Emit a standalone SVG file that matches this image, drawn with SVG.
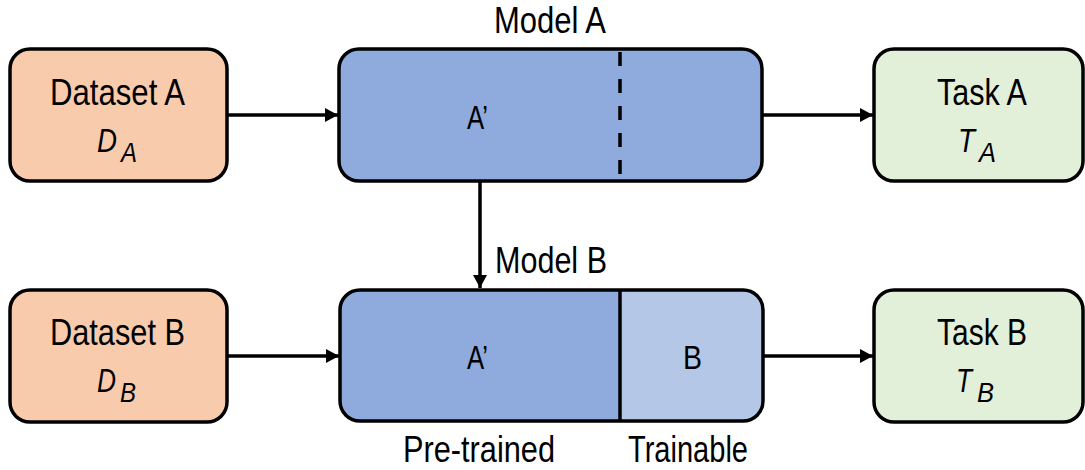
<svg xmlns="http://www.w3.org/2000/svg" width="1085" height="470" viewBox="0 0 1085 470">
  <defs>
    <marker id="arrow" viewBox="0 0 13 14" refX="13" refY="7" markerWidth="13" markerHeight="14" markerUnits="userSpaceOnUse" orient="auto">
      <path d="M0,0 L13,7 L0,14 Z" fill="#000"/>
    </marker>
    <style>
      .box { stroke: #000; stroke-width: 3.5; }
      .data { fill: #F8CBAD; }
      .model { fill: #8FAADC; }
      .train { fill: #B4C7E7; }
      .task { fill: #E2EFD9; }
      .edge { stroke: #000; stroke-width: 3.5; fill: none; marker-end: url(#arrow); }
      text { font-family: "Liberation Sans", Arial, sans-serif; fill: #000; }
      .lbl { font-size: 36px; }
      .math { font-size: 33px; font-style: italic; }
      .sub { font-size: 28px; font-style: italic; }
      .inner { font-size: 33px; }
    </style>
  </defs>

  <!-- connectors -->
  <g id="connectors">
    <line class="edge" x1="227" y1="115" x2="338" y2="115"/>
    <line class="edge" x1="762" y1="115" x2="873" y2="115"/>
    <line class="edge" x1="480" y1="182" x2="480" y2="288"/>
    <line class="edge" x1="227" y1="356" x2="339" y2="356"/>
    <line class="edge" x1="763" y1="356" x2="873" y2="356"/>
  </g>

  <!-- Dataset A -->
  <g id="dataset-a">
    <rect class="box data" x="10" y="49" width="217" height="132" rx="20"/>
    <text class="lbl" x="50" y="105" textLength="135" lengthAdjust="spacingAndGlyphs">Dataset A</text>
    <text class="math" x="97" y="152" textLength="20" lengthAdjust="spacingAndGlyphs">D</text>
    <text class="sub" x="121" y="162" textLength="16" lengthAdjust="spacingAndGlyphs">A</text>
  </g>

  <!-- Model A -->
  <g id="model-a">
    <text class="lbl" x="494" y="33" textLength="112" lengthAdjust="spacingAndGlyphs">Model A</text>
    <rect class="box model" x="339" y="49" width="423" height="132" rx="20"/>
    <line x1="620" y1="52" x2="620" y2="176" stroke="#000" stroke-width="3.5" stroke-dasharray="14 13"/>
    <text class="inner" x="467" y="129" textLength="21" lengthAdjust="spacingAndGlyphs">A’</text>
  </g>

  <!-- Task A -->
  <g id="task-a">
    <rect class="box task" x="874" y="49" width="209" height="132" rx="20"/>
    <text class="lbl" x="937" y="105" textLength="90" lengthAdjust="spacingAndGlyphs">Task A</text>
    <text class="math" x="958" y="152" textLength="17" lengthAdjust="spacingAndGlyphs">T</text>
    <text class="sub" x="979" y="162" textLength="17" lengthAdjust="spacingAndGlyphs">A</text>
  </g>

  <!-- Dataset B -->
  <g id="dataset-b">
    <rect class="box data" x="10" y="290" width="217" height="132" rx="20"/>
    <text class="lbl" x="50" y="345" textLength="135" lengthAdjust="spacingAndGlyphs">Dataset B</text>
    <text class="math" x="97" y="392" textLength="19" lengthAdjust="spacingAndGlyphs">D</text>
    <text class="sub" x="120" y="402" textLength="16" lengthAdjust="spacingAndGlyphs">B</text>
  </g>

  <!-- Model B: pre-trained A' part and trainable B part -->
  <g id="model-b">
    <text class="lbl" x="495" y="273" textLength="112" lengthAdjust="spacingAndGlyphs">Model B</text>
    <path class="model" d="M620,290 L360,290 A20,20 0 0 0 340,310 L340,401 A20,20 0 0 0 360,421 L620,421 Z"/>
    <path class="train" d="M620,290 L743,290 A20,20 0 0 1 763,310 L763,401 A20,20 0 0 1 743,421 L620,421 Z"/>
    <rect x="340" y="290" width="423" height="131" rx="20" fill="none" stroke="#000" stroke-width="3.5"/>
    <line x1="620" y1="290" x2="620" y2="421" stroke="#000" stroke-width="3.5"/>
    <text class="inner" x="467" y="369" textLength="21" lengthAdjust="spacingAndGlyphs">A’</text>
    <text class="inner" x="683" y="369" textLength="19" lengthAdjust="spacingAndGlyphs">B</text>
    <text class="lbl" x="403" y="462" textLength="152" lengthAdjust="spacingAndGlyphs">Pre-trained</text>
    <text class="lbl" x="628" y="462" textLength="120" lengthAdjust="spacingAndGlyphs">Trainable</text>
  </g>

  <!-- Task B -->
  <g id="task-b">
    <rect class="box task" x="874" y="290" width="209" height="132" rx="20"/>
    <text class="lbl" x="937" y="345" textLength="90" lengthAdjust="spacingAndGlyphs">Task B</text>
    <text class="math" x="956" y="392" textLength="16" lengthAdjust="spacingAndGlyphs">T</text>
    <text class="sub" x="977" y="402" textLength="17" lengthAdjust="spacingAndGlyphs">B</text>
  </g>
</svg>
